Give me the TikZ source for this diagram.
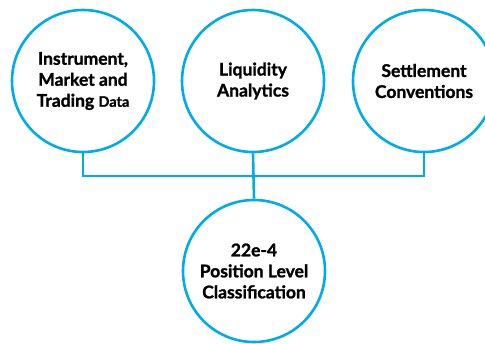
\documentclass[tikz,border=0pt]{standalone}
\usepackage{fontspec}
\setmainfont{Lato}[BoldFeatures={FakeBold=1.3}]
\definecolor{ring}{RGB}{0,172,230}
\begin{document}
\begin{tikzpicture}[x=1pt,y=-1pt,
  circ/.style={circle,draw=ring,line width=2.6pt,minimum size=142pt,inner sep=0pt,
    align=center,font=\fontsize{17.5}{21}\selectfont\bfseries,text=black},
  link/.style={draw=ring,line width=2.6pt}]
\useasboundingbox (0,0) rectangle (485,343);
\node[circ] (a) at (83,81) {Instrument,\\Market and\\Trading {\fontsize{14.5}{21}\selectfont Data}};
\node[circ] (b) at (253,81) {Liquidity\\Analytics};
\node[circ] (c) at (424,81) {Settlement\\Conventions};
\node[circ] (d) at (254,271) {22e-4\\Position Level\\Classification};
\coordinate (j) at (254,176);
\draw[link] (a.south) |- (j) -| (c.south);
\draw[link] (b.south) -- (d.north);
\end{tikzpicture}
\end{document}
